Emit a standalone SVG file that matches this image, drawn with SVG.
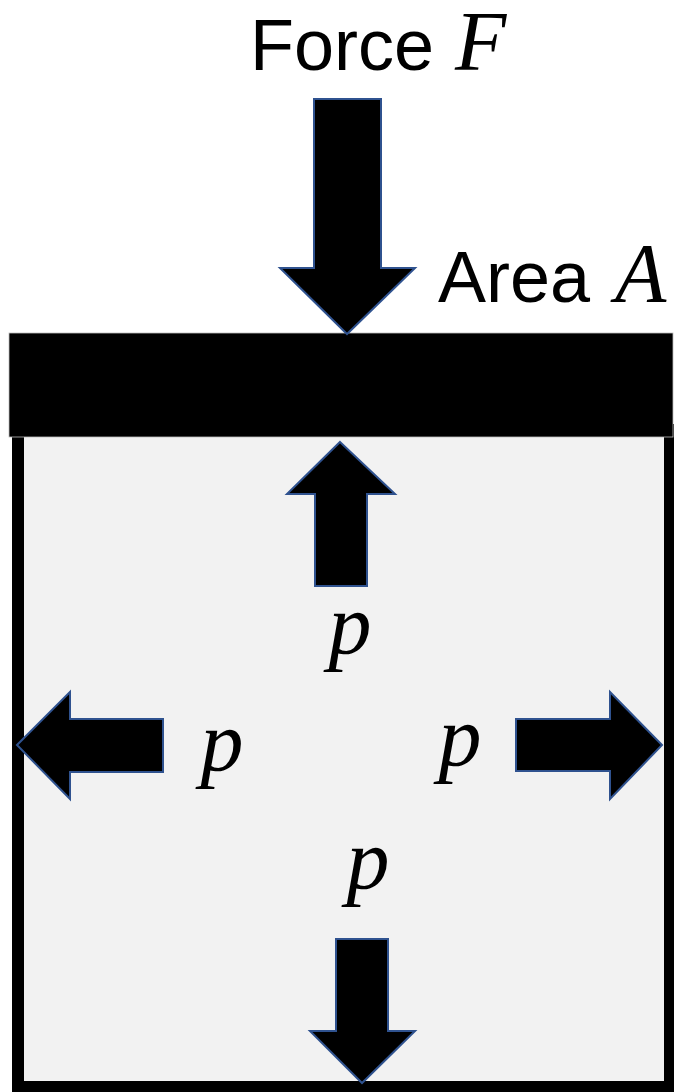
<svg xmlns="http://www.w3.org/2000/svg" width="674" height="1092" viewBox="0 0 674 1092">
  <style>
    .arrow { fill: #000000; stroke: #2f528f; stroke-width: 2; stroke-linejoin: miter; }
    .label { font-family: "Liberation Sans", Arial, sans-serif; font-size: 72px; fill: #000000; }
    .math { font-family: "Liberation Serif", "Times New Roman", serif; font-style: italic; fill: #000000; }
    .p { font-size: 86px; text-anchor: middle; }
  </style>
  <rect x="0" y="0" width="674" height="1092" fill="#ffffff"/>

  <g id="container">
    <rect x="18" y="430" width="652" height="657" fill="#f2f2f2" stroke="#000000" stroke-width="12"/>
  </g>

  <g id="piston">
    <rect x="9" y="333" width="664" height="104" fill="#000000" stroke="#bfbfbf" stroke-width="0.8"/>
  </g>

  <g id="force-label">
    <text class="label" x="250" y="70">Force <tspan class="math" x="455" font-size="84px">F</tspan></text>
  </g>

  <g id="area-label">
    <text class="label" x="438" y="302">Area <tspan class="math" x="615" font-size="84px">A</tspan></text>
  </g>

  <g id="arrows">
    <polygon id="arrow-force" class="arrow" points="314,99 381,99 381,268 415,268 347,334 280,268 314,268"/>
    <polygon id="arrow-up" class="arrow" points="340,442 395,494 367,494 367,586 315,586 315,494 287,494"/>
    <polygon id="arrow-left" class="arrow" points="17,745 70,692 70,719 163,719 163,772 70,772 70,799"/>
    <polygon id="arrow-right" class="arrow" points="662,745 610,692 610,719 516,719 516,771 610,771 610,799"/>
    <polygon id="arrow-down" class="arrow" points="336,939 388,939 388,1031 415,1031 362,1083 310,1031 336,1031"/>
  </g>

  <g id="pressure-labels">
    <text class="math p" x="350" y="653">p</text>
    <text class="math p" x="222" y="770">p</text>
    <text class="math p" x="460" y="765">p</text>
    <text class="math p" x="368" y="888">p</text>
  </g>
</svg>
